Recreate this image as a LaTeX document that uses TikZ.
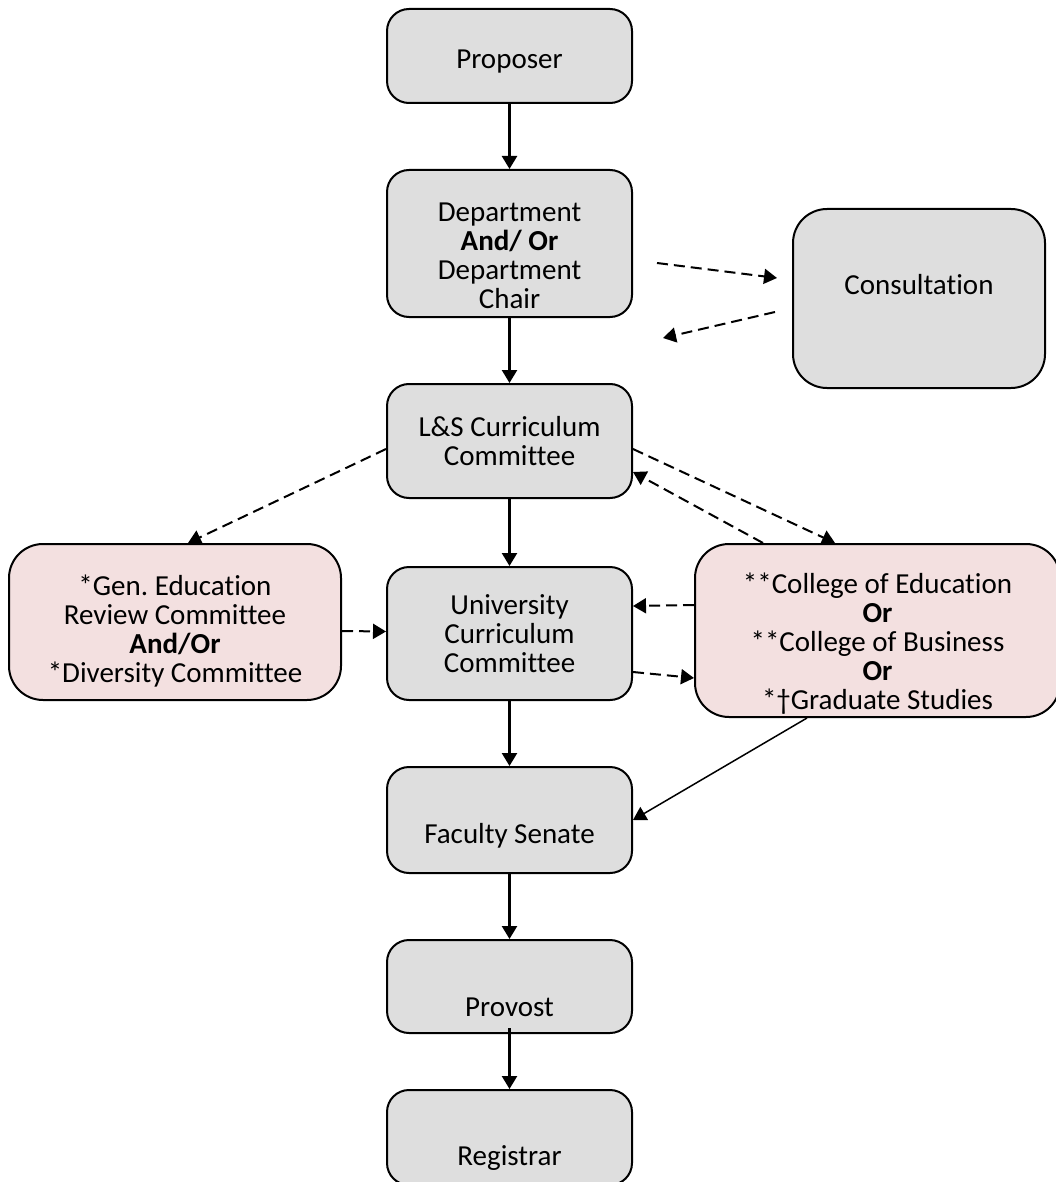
\documentclass[tikz,border=0pt]{standalone}
\usepackage{fontspec}
\setmainfont[Ligatures=NoCommon]{Carlito}
\usepackage{tikz}
\usetikzlibrary
  {
    arrows.meta,              % filled arrow heads
    calc,
  }

\definecolor{boxgray}{HTML}{DEDEDE}
\definecolor{boxpink}{HTML}{F3E0E0}

% room above the first line, to set the text lower in its box
\newcommand{\topgap}[1]{\rule{0pt}{#1}}

\frenchspacing

\begin{document}
\begin{tikzpicture}
    [
      x=1pt, y=-1pt,
      font=\fontsize{29}{29}\selectfont,
      stage/.style=
        {
          rectangle,
          rounded corners=22pt,
          draw=black,
          fill=boxgray,
          line width=2pt,
          minimum width=245pt,
          inner sep=0pt,
          align=center,
        },
      review/.style=
        {
          stage,
          rounded corners=34pt,
          fill=boxpink,
        },
      flow/.style=
        {
          line width=2.4pt,
          -{Triangle[length=13pt,width=15pt]},
        },
      maybe/.style=
        {
          flow,
          line width=2pt,
          dash pattern=on 11pt off 6pt,
        },
    ]
    \useasboundingbox (0,0) rectangle (1055,1182);

    \node[stage, minimum height=94pt]  (proposer)   at (509.5,56)    {\topgap{30pt}Proposer};
    \node[stage, minimum height=147pt] (department) at (509.5,243.5) {\topgap{44pt}Department\\\textbf{And/ Or}\\Department\\Chair};
    \node[stage, minimum height=179pt, minimum width=252pt, rounded corners=34pt]
                                       (consult)    at (919,298.5)   {Consultation\\\mbox{}};
    \node[stage, minimum height=114pt] (ls cc)      at (509.5,441)   {L\&S Curriculum\\Committee};
    \node[review, minimum height=156pt, minimum width=332pt]
                                       (gen ed)     at (175,622)     {\topgap{39pt}*Gen. Education\\Review Committee\\\textbf{And/Or}\\*Diversity Committee};
    \node[review, minimum height=173pt, minimum width=365pt]
                                       (colleges)   at (877.5,630.5) {\topgap{47pt}**College of Education\\\textbf{Or}\\**College of Business\\\textbf{Or}\\*†Graduate Studies};
    \node[stage, minimum height=133pt] (univ cc)    at (509.5,633.5) {University\\Curriculum\\Committee};
    \node[stage, minimum height=106pt] (senate)     at (509.5,820)   {\topgap{51pt}Faculty Senate};
    \node[stage, minimum height=93pt]  (provost)    at (509.5,986.5) {\topgap{60pt}Provost};
    \node[stage, minimum height=95pt]  (registrar)  at (509.5,1137.5) {\topgap{61pt}Registrar};

    \coordinate (ask from)    at (657,263);
    \coordinate (ask to)      at (777,278);
    \coordinate (answer from) at (775,312);
    \coordinate (answer to)   at (663,338);

    % main line
    \draw[flow] (proposer)   -- (department);
    \draw[flow] (department) -- (ls cc);
    \draw[flow] (ls cc)      -- (univ cc);
    \draw[flow] (univ cc)    -- (senate);
    \draw[flow] (senate)     -- (provost);
    \draw[flow] ([yshift=6pt]provost.south) -- (registrar);

    % consultation
    \draw[maybe] (ask from)    -- (ask to);
    \draw[maybe] (answer from) -- (answer to);

    % side reviews
    \draw[maybe] ([yshift=-8pt]ls cc.west) -- ([xshift=13pt]gen ed.north);
    \draw[maybe] ([yshift=-8pt]ls cc.east) -- ([xshift=-42.5pt]colleges.north);
    \draw[maybe] ([xshift=-114.5pt]colleges.north) -- ([yshift=-31pt]ls cc.east);
    \draw[maybe] ([yshift=-9pt]gen ed.east) -- ([yshift=2pt]univ cc.west);
    \draw[maybe] ([yshift=25.5pt]colleges.west) -- ([yshift=27.5pt]univ cc.east);
    \draw[maybe] ([yshift=-38.5pt]univ cc.east) -- ([yshift=-47.5pt]colleges.west);
    \draw[flow, line width=1.5pt] ([xshift=-70.5pt]colleges.south) -- (senate.east);
\end{tikzpicture}
\end{document}
